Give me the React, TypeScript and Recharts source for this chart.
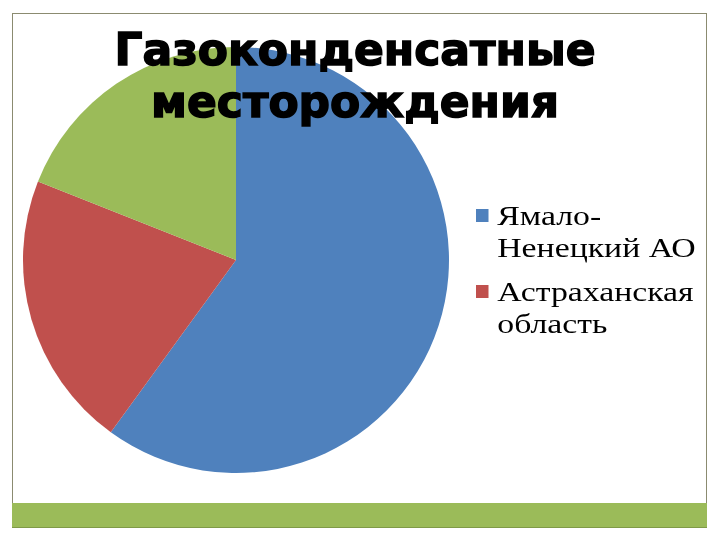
import React from 'react';
import { PieChart, Pie, Cell, Legend } from 'recharts';

// регионы и доли (%)
const regions = ['Ямало-Ненецкий АО', 'Астраханская область', 'Прочие'];
const shares = [60, 21, 19];
const colors = ['#4F81BD', '#C0504D', '#9BBB59'];
const legendCount = 2; // в легенде видны только два региона

const title = ['Газоконденсатные', 'месторождения'];

const chartData = regions.map((name, i) => ({ name, value: shares[i] }));

// слайд растянут по горизонтали, поэтому текст легенды шире обычного Times
const renderLegend = () => (
  <div style={{ transform: 'scaleX(1.25)', transformOrigin: 'left top' }}>
    {chartData.slice(0, legendCount).map((d, i) => (
      <div key={d.name} style={{ display: 'flex', alignItems: 'flex-start', marginBottom: 12 }}>
        <span
          style={{
            width: 10,
            height: 13,
            marginTop: 9,
            marginRight: 7,
            flex: '0 0 auto',
            background: colors[i],
          }}
        />
        <span
          style={{
            width: 162,
            fontFamily: '"Liberation Serif", "DejaVu Serif", serif',
            fontSize: 27,
            lineHeight: '32px',
            color: '#000',
          }}
        >
          {d.name}
        </span>
      </div>
    ))}
  </div>
);

export default function App() {
  return (
    <div style={{ position: 'fixed', left: 0, top: 0, width: 720, height: 540, background: '#fff' }}>
      {/* рамка слайда */}
      <div
        style={{
          position: 'absolute',
          left: 12,
          top: 13,
          width: 695,
          height: 490,
          borderTop: '1.5px solid #8b8b70',
          borderLeft: '1.5px solid #8b8b70',
          borderRight: '1.5px solid #8b8b70',
          boxSizing: 'border-box',
        }}
      />
      <div
        style={{
          position: 'absolute',
          left: 12,
          top: 503,
          width: 695,
          height: 25,
          background: '#9BBB59',
          borderBottom: '1px solid #7f9a48',
          boxSizing: 'border-box',
        }}
      />
      <div style={{ position: 'absolute', left: 0, top: 0 }}>
        <PieChart width={720} height={540}>
          <Pie
            data={chartData}
            dataKey="value"
            nameKey="name"
            cx={231}
            cy={255}
            outerRadius={213}
            startAngle={90}
            endAngle={-270}
            stroke="none"
            isAnimationActive={false}
          >
            {chartData.map((d, i) => (
              <Cell key={d.name} fill={colors[i]} />
            ))}
          </Pie>
          <Legend
            layout="vertical"
            content={renderLegend}
            wrapperStyle={{ position: 'absolute', left: 476, top: 200, width: 235 }}
          />
        </PieChart>
      </div>
      <div
        style={{
          position: 'absolute',
          left: 0,
          top: 24,
          width: 710,
          textAlign: 'center',
          fontFamily: '"DejaVu Sans", sans-serif',
          fontWeight: 'bold',
          fontSize: 44,
          lineHeight: '52px',
          color: '#000',
          WebkitTextStroke: '1.5px #000',
          pointerEvents: 'none',
        }}
      >
        {title.map((t) => (
          <div key={t}>{t}</div>
        ))}
      </div>
    </div>
  );
}
